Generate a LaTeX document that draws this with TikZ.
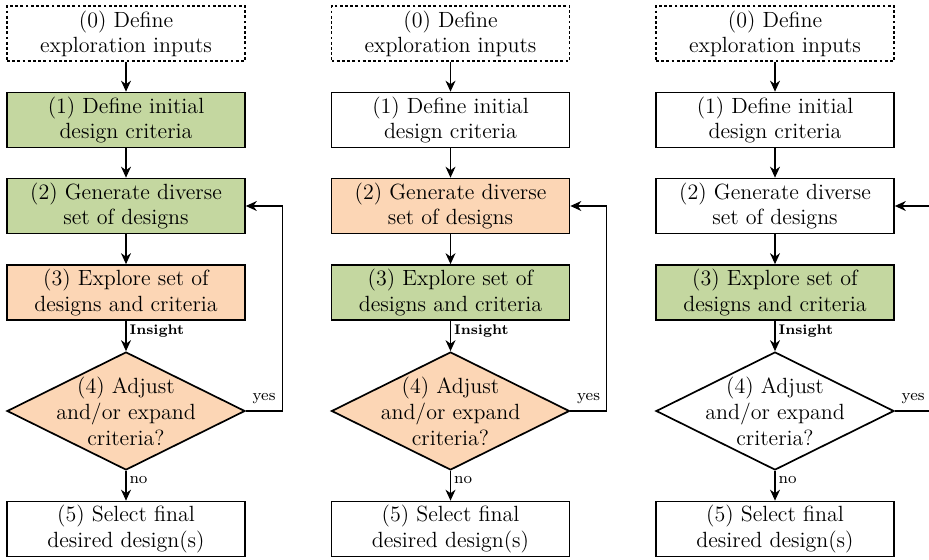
\documentclass[tikz,border=0pt]{standalone}
\usetikzlibrary{arrows.meta,shapes.geometric}
\definecolor{boxgreen}{RGB}{196,215,160}
\definecolor{boxpeach}{RGB}{252,214,181}
\tikzset{
  stepbox/.style={draw, line width=0.85pt, minimum width=119pt, minimum height=27.5pt, align=center, inner sep=1pt, font=\fontsize{11}{12.6}\selectfont},
  inputbox/.style={stepbox, dash pattern=on 1.4pt off 1.2pt},
  decision/.style={draw, line width=0.85pt, diamond, minimum width=119pt, minimum height=59pt, inner sep=0pt},
  dtext/.style={align=center, inner sep=0pt, font=\fontsize{11}{13}\selectfont},
  conn/.style={line width=0.55pt, -{Stealth[length=5.5pt,width=5pt]}},
  lbl/.style={font=\footnotesize, inner sep=1.5pt},
  ins/.style={font=\scriptsize\bfseries, inner sep=1.5pt}
}
\begin{document}
\begin{tikzpicture}[x=0.5pt,y=-0.5pt]
\useasboundingbox (0,0) rectangle (929,560);
\clip (0,0) rectangle (929,560);
\foreach \i/\cx/\ca/\cb/\cc/\cd in {1/126/boxgreen/boxgreen/boxpeach/boxpeach, 2/450.5/white/boxpeach/boxgreen/boxpeach, 3/775/white/white/boxgreen/white}{
  \node[inputbox] (b0-\i) at (\cx,33.5) {(0) Define\\exploration inputs};
  \node[stepbox, fill=\ca] (b1-\i) at (\cx,120) {(1) Define initial\\design criteria};
  \node[stepbox, fill=\cb] (b2-\i) at (\cx,206) {(2) Generate diverse\\set of designs};
  \node[stepbox, fill=\cc] (b3-\i) at (\cx,292.5) {(3) Explore set of\\designs and criteria};
  \node[decision, fill=\cd] (d-\i) at (\cx,411) {};
  \node[dtext] (dt-\i) at (\cx,411) {(4) Adjust\\and/or expand\\criteria?};
  \node[stepbox] (b5-\i) at (\cx,529) {(5) Select final\\desired design(s)};
  \draw[conn] (b0-\i) -- (b1-\i);
  \draw[conn] (b1-\i) -- (b2-\i);
  \draw[conn] (b2-\i) -- (b3-\i);
  \draw[conn] (b3-\i) -- node[ins, right, pos=0.35] {Insight} (d-\i);
  \draw[conn] (d-\i) -- node[lbl, right, pos=0.3] {no} (b5-\i);
  \draw[conn] (d-\i.east) -- node[lbl, above=2pt] {yes} ++(36.5,0) |- (b2-\i.east);
}
\end{tikzpicture}
\end{document}
